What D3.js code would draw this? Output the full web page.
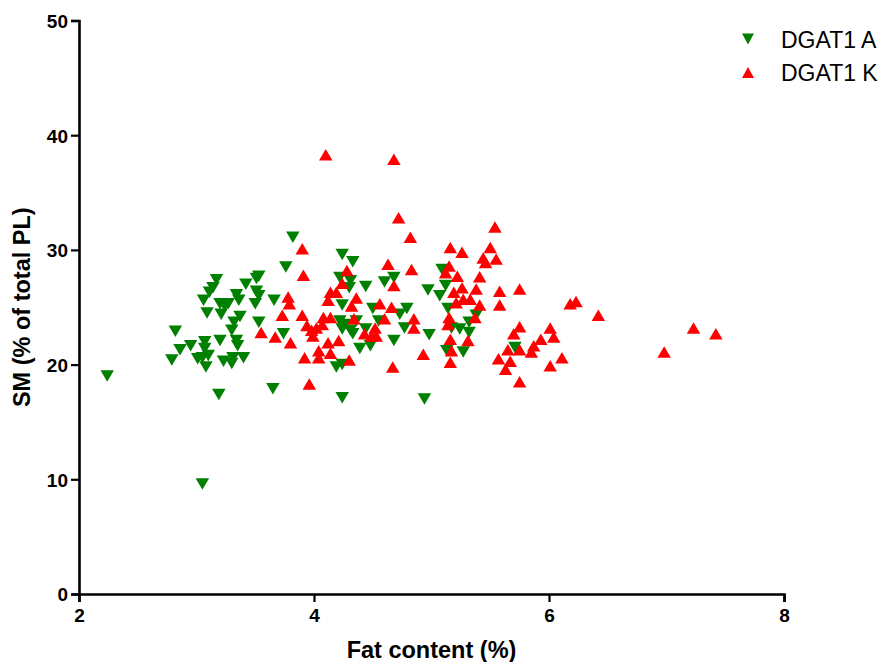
<!DOCTYPE html>
<html><head><meta charset="utf-8">
<script src="https://cdn.jsdelivr.net/npm/d3@7"></script>
<style>body{margin:0;background:#fff}svg{display:block}</style>
</head><body>
<script>
const seriesNames = ["DGAT1 A", "DGAT1 K"];
const xTicks = [2, 4, 6, 8];
const yTicks = [0, 10, 20, 30, 40, 50];
// DGAT1 A : [fat content %, SM % of total PL]
const dgatA = [
[2.24,19.0],[3.19,17.4],[3.05,9.6],
[2.82,22.9],[2.86,21.3],[2.79,20.4],[2.95,21.65],[3.07,22.0],[3.07,21.4],[3.01,20.5],[3.05,20.6],[3.10,20.8],[3.08,19.8],[3.20,22.1],[3.23,20.3],[3.31,20.6],[3.30,20.1],[3.40,20.6],[3.35,21.65],[3.34,22.1],[3.30,23.0],[3.32,23.7],[3.37,24.2],[3.06,25.6],[3.09,24.5],[3.11,26.3],[3.14,26.7],[3.17,27.4],[3.20,25.3],[3.21,24.4],[3.24,25.1],[3.27,25.3],[3.34,26.1],[3.36,25.6],[3.42,27.0],[3.51,27.5],[3.53,27.7],[3.51,26.4],[3.53,26.0],[3.50,25.3],[3.53,23.7],
[3.82,31.1],[3.76,28.5],[3.66,25.6],[3.74,22.7],[3.65,17.9],[4.24,29.6],[4.33,28.96],[4.22,27.6],[4.31,27.3],[4.30,26.7],[4.44,26.8],[4.60,27.2],[4.68,27.6],[4.24,25.2],[4.50,24.9],[4.55,23.8],[4.22,23.8],[4.26,23.5],[4.24,23.1],[4.31,23.0],[4.36,23.8],[4.33,22.7],[4.44,23.1],[4.39,21.4],[4.48,21.65],[4.68,22.1],[4.73,24.4],[4.79,24.9],[4.77,23.2],[4.97,26.5],[4.98,22.6],[4.19,19.8],[4.24,20.0],[4.24,17.1],[4.94,17.0],
[5.09,28.3],[5.07,26.0],[5.12,26.9],[5.14,24.9],[5.38,24.3],[5.32,23.7],[5.24,23.1],[5.32,22.8],[5.17,23.2],[5.13,21.2],[5.27,21.1],[5.71,21.5]
];
// DGAT1 K
const dgatK = [
[3.55,22.8],[4.10,38.3],[4.68,37.9],[4.72,32.8],[4.82,31.1],[3.90,30.1],[3.91,27.8],[4.63,28.75],[4.83,28.3],[4.28,28.2],[4.24,27.1],[4.68,26.9],[4.14,26.3],[4.19,26.3],[4.12,25.6],[3.78,25.9],[3.79,25.3],[4.36,25.8],[4.32,25.1],[4.56,25.3],[4.66,25.0],[3.73,24.3],[3.90,24.3],[4.08,24.1],[4.14,24.1],[3.94,23.4],[3.98,23.0],[4.02,23.2],[4.07,23.5],[3.99,22.5],[4.34,24.0],[4.60,24.0],[4.85,24.0],[4.85,23.2],[4.52,23.2],[4.43,22.7],[4.49,22.5],[4.53,22.5],[3.67,22.4],[3.80,21.9],[4.12,21.9],[4.21,22.1],[4.04,21.2],[4.14,21.0],[3.92,20.6],[4.04,20.6],[4.30,20.4],[4.67,19.8],[4.93,20.9],[3.96,18.3],
[5.54,32.0],[5.16,30.2],[5.26,29.8],[5.50,30.2],[5.44,29.3],[5.46,28.9],[5.55,29.2],[5.15,28.6],[5.12,28.0],[5.22,27.7],[5.41,27.65],[5.26,26.7],[5.19,26.3],[5.38,26.6],[5.58,26.4],[5.75,26.6],[5.27,25.7],[5.33,25.7],[5.21,25.4],[5.41,25.2],[5.58,25.2],[6.18,25.3],[6.23,25.5],[6.42,24.3],[5.15,24.1],[5.37,24.1],[5.14,23.5],[5.31,22.1],[5.16,22.2],[5.17,21.2],[5.16,20.2],[5.75,23.3],[5.70,22.7],[5.65,21.3],[5.75,21.3],[5.57,20.5],[5.67,20.3],[5.63,19.6],[5.75,18.5],[5.87,21.65],[5.85,21.1],[5.93,22.2],[6.01,23.2],[6.04,22.4],[6.11,20.6],[6.01,19.9],[7.23,23.2],[7.42,22.7],[6.98,21.1]
];
const colors = ["#008000", "#ff0000"];

const W = 882, H = 662;
const svg = d3.select("body").append("svg").attr("width", W).attr("height", H);
const x = d3.scaleLinear().domain([2, 8]).range([79, 784]);
const y = d3.scaleLinear().domain([0, 50]).range([594, 20.5]);
const font = "'Liberation Sans', Arial, sans-serif";

function tri(w, h, down) {
  const p = d3.path();
  if (down) { p.moveTo(-w/2, -h/2); p.lineTo(w/2, -h/2); p.lineTo(0, h/2); }
  else { p.moveTo(-w/2, h/2); p.lineTo(w/2, h/2); p.lineTo(0, -h/2); }
  p.closePath();
  return p.toString();
}

// points
const plot = svg.append("g");
plot.selectAll("path.a").data(dgatA).join("path").attr("class","a")
  .attr("d", tri(13.5, 11.5, true))
  .attr("transform", d => `translate(${x(d[0])},${y(d[1])})`)
  .attr("fill", colors[0]);
plot.selectAll("path.k").data(dgatK).join("path").attr("class","k")
  .attr("d", tri(13.5, 11.5, false))
  .attr("transform", d => `translate(${x(d[0])},${y(d[1])})`)
  .attr("fill", colors[1]);

// axes
const xAxis = svg.append("g").attr("transform", `translate(0,${y(0)})`)
  .call(d3.axisBottom(x).tickValues(xTicks).tickSize(8).tickPadding(7).tickFormat(d3.format("d")));
const yAxis = svg.append("g").attr("transform", `translate(${x(2)},0)`)
  .call(d3.axisLeft(y).tickValues(yTicks).tickSize(8).tickPadding(3).tickFormat(d3.format("d")));
[xAxis, yAxis].forEach(g => {
  g.select(".domain").attr("stroke", "#000").attr("stroke-width", 2.6);
  g.selectAll(".tick line").attr("stroke", "#000").attr("stroke-width", 2.2);
  g.selectAll(".tick text").attr("fill", "#000").style("font-family", font)
    .style("font-size", "19px").style("font-weight", "bold");
});
yAxis.selectAll(".tick text").attr("dy", "0.36em");

// axis titles
svg.append("text").attr("x", (x(2)+x(8))/2).attr("y", 658)
  .attr("text-anchor", "middle").style("font-family", font).style("font-size", "23.5px")
  .style("font-weight", "bold").text("Fat content (%)");
svg.append("text").attr("transform", `translate(30,${y(25)}) rotate(-90)`)
  .attr("text-anchor", "middle").style("font-family", font).style("font-size", "23.5px")
  .style("font-weight", "bold").text("SM (% of total PL)");

// legend
const leg = svg.append("g");
seriesNames.forEach((n, i) => {
  const cy = 39 + i * 33.5;
  leg.append("path").attr("d", tri(12, 11, i === 0))
    .attr("transform", `translate(748,${cy})`).attr("fill", colors[i]);
  leg.append("text").attr("x", 781).attr("y", cy + 8.5)
    .style("font-family", font).style("font-size", "23px").text(n);
});
</script>
</body></html>
